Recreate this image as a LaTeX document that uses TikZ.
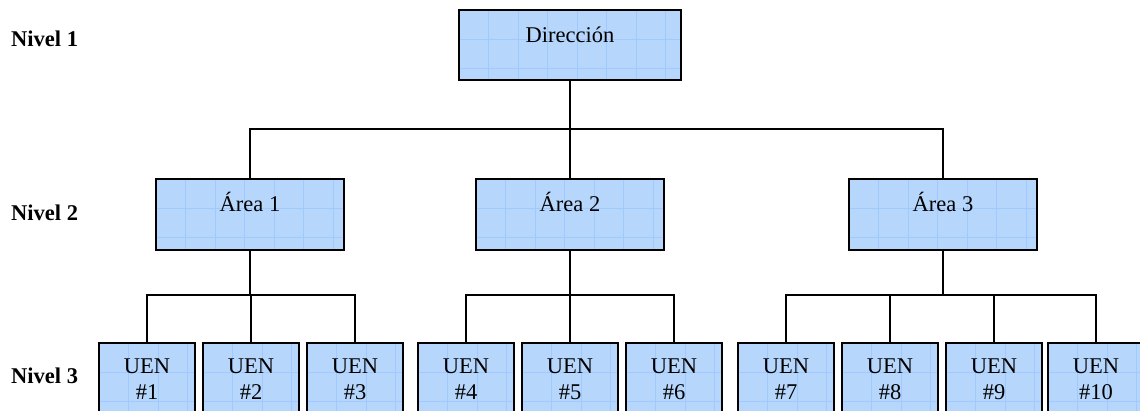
\documentclass[tikz,border=0pt]{standalone}
\usepackage{fontspec}
\setmainfont{Liberation Serif}
\definecolor{boxfill}{RGB}{182,214,252}
\definecolor{gridblue}{RGB}{160,202,255}
\tikzset{
  gridline/.style={draw=gridblue, line width=0.7pt},
  unitbox/.style={draw=black, line width=1.6pt, fill=boxfill, inner sep=0pt,
    anchor=north, font=\fontsize{22.5}{26}\selectfont,
    path picture={
      \foreach \k in {1,...,8}{
        \draw[gridline] ([xshift=\k*29.5pt]path picture bounding box.north west) -- ++(0,-130pt);
      }
      \foreach \k in {1,...,4}{
        \draw[gridline] ([yshift=-\k*29.5pt]path picture bounding box.north west) -- ++(300pt,0);
      }
    }},
  topbox/.style={unitbox, minimum width=222pt, minimum height=70pt, text height=33pt, text depth=37pt},
  areabox/.style={unitbox, minimum width=188pt, minimum height=71pt, text height=33pt, text depth=38pt},
  uenbox/.style={unitbox, minimum width=96pt, minimum height=80pt},
  boxtext/.style={inner sep=0pt, font=\fontsize{22.5}{26}\selectfont},
  levellabel/.style={inner sep=0pt, font=\fontsize{22.5}{26}\selectfont\bfseries},
  link/.style={draw=black, line width=1.6pt}
}
\begin{document}
\begin{tikzpicture}[x=1pt, y=-1pt]
  \useasboundingbox (0,0) rectangle (1140,410);
  \fill[white] (0,0) rectangle (1140,410);
  \clip (0,0) rectangle (1140,410);

  % level captions
  \node[levellabel, anchor=base west] (lvl1) at (11,46) {Nivel 1};
  \node[levellabel, anchor=base west] (lvl2) at (11,220) {Nivel 2};
  \node[levellabel, anchor=base west] (lvl3) at (11,383) {Nivel 3};

  % top and middle levels
  \node[topbox] (dir) at (570,9) {Dirección};
  \node[areabox] (a1) at (250,178) {Área 1};
  \node[areabox] (a2) at (570,178) {Área 2};
  \node[areabox] (a3) at (943,178) {Área 3};

  % business units
  \foreach \n/\x in {1/147,2/251,3/355,4/466,5/570,6/674,7/786,8/890,9/994,10/1096}{
    \node[uenbox] (u\n) at (\x,342) {};
    \node[boxtext, anchor=base] (u\n name) at ([yshift=-31pt]u\n.north) {UEN};
    \node[boxtext, anchor=base] (u\n num) at ([yshift=-57pt]u\n.north) {\#\n};
  }

  % connectors from the direction to the areas
  \coordinate (bus0) at (570,129);
  \draw[link] (dir.south) -- (bus0);
  \draw[link] (a1.north) |- (bus0);
  \draw[link] (a3.north) |- (bus0);
  \draw[link] (a2.north) -- (bus0);

  % area 1 branch
  \coordinate (bus1) at (250,295);
  \draw[link] (a1.south) -- (bus1);
  \draw[link] (u1.north) |- (bus1);
  \draw[link] (u3.north) |- (bus1);
  \draw[link] (u2.north) |- (bus1);

  % area 2 branch
  \coordinate (bus2) at (570,295);
  \draw[link] (a2.south) -- (bus2);
  \draw[link] (u4.north) |- (bus2);
  \draw[link] (u6.north) |- (bus2);
  \draw[link] (u5.north) -- (bus2);

  % area 3 branch
  \coordinate (bus3) at (943,295);
  \draw[link] (a3.south) -- (bus3);
  \draw[link] (u7.north) |- (bus3);
  \draw[link] (u10.north) |- (bus3);
  \draw[link] (u8.north) |- (bus3);
  \draw[link] (u9.north) |- (bus3);
\end{tikzpicture}
\end{document}
